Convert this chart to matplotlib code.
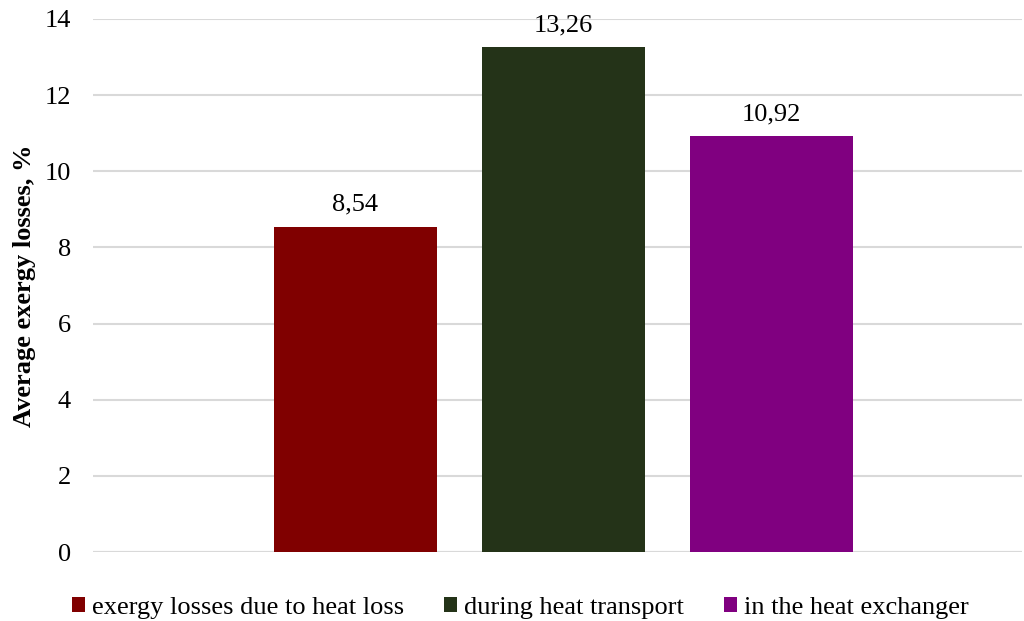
import matplotlib.pyplot as plt

categories = ['exergy losses due to heat loss', 'during heat transport', 'in the heat exchanger']
values = [8.54, 13.26, 10.92]
labels = ['8,54', '13,26', '10,92']
colors = ['#800000', '#243318', '#800080']
yticks = [0, 2, 4, 6, 8, 10, 12, 14]

plt.rcParams['font.family'] = ['Liberation Serif', 'DejaVu Serif']

fig = plt.figure(figsize=(10.24, 6.21), dpi=100)
ax = fig.add_axes([0.0908, 0.111, 0.907, 0.8585])

x = [0, 1, 2]
bars = ax.bar(x, values, width=0.784, color=colors, label=categories, zorder=3)

for xi, v, lab in zip(x, values, labels):
    ax.annotate(lab, (xi, v), xytext=(0, 8), textcoords='offset points',
                ha='center', va='bottom', fontsize=19)

ax.set_ylim(0, 14)
ax.set_xlim(-1.26, 3.2)
ax.set_yticks(yticks)
ax.set_yticklabels([str(t) for t in yticks], fontsize=19)
ax.set_xticks([])
ax.tick_params(axis='y', length=0, pad=16)
ax.yaxis.grid(True, color='#d9d9d9', linewidth=1.5, zorder=0)
for s in ax.spines.values():
    s.set_visible(False)
ax.axhline(0, color='#d9d9d9', linewidth=1.5, zorder=1)

ax.set_ylabel('Average exergy losses, %', fontsize=19, fontweight='bold', labelpad=6)

ax.legend(loc='upper center', bbox_to_anchor=(0.46, -0.04), ncol=3, frameon=False,
          fontsize=19, handlelength=0.5, handleheight=0.5, handletextpad=0.27,
          columnspacing=1.5)

fig.savefig('out.png', dpi=100)
